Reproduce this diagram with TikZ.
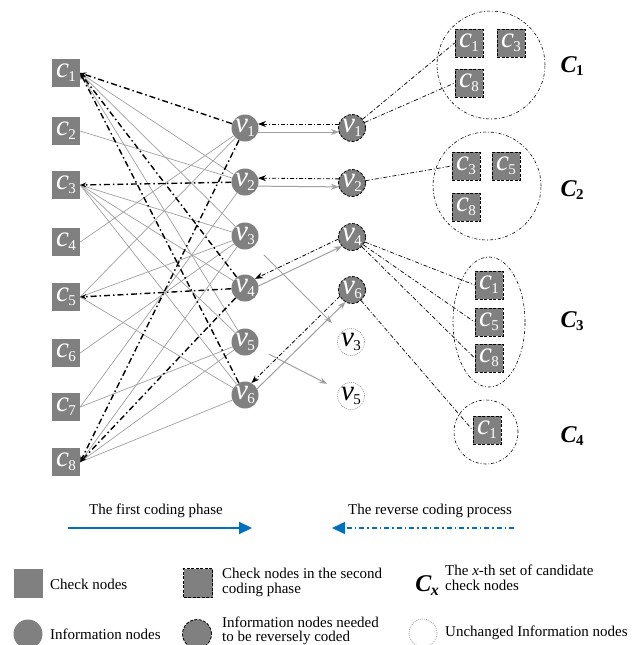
\documentclass[tikz,border=0pt]{standalone}
\usepackage{fontspec}
\setmainfont{Liberation Serif}
\usetikzlibrary{arrows.meta,calc,shapes.geometric}
\definecolor{ng}{RGB}{128,128,128}
\definecolor{lg}{RGB}{160,160,160}
\definecolor{bluec}{RGB}{0,112,192}
\newcommand{\nlab}[2]{{\fontsize{29}{29}\selectfont\itshape #1}\kern-0.5pt\raisebox{-4pt}{\fontsize{15}{15}\selectfont #2}}
\newcommand{\setlab}[1]{{\fontsize{24}{24}\selectfont\bfseries\itshape C}\kern-0.5pt\raisebox{-3.5pt}{\fontsize{15}{15}\selectfont\bfseries #1}}
\tikzset{
  chk/.style={rectangle, fill=ng, minimum size=28pt, inner sep=0pt, text=white},
  chkd/.style={chk, draw=black, dash pattern=on 3pt off 1.5pt, line width=0.8pt},
  inf/.style={circle, fill=ng, minimum size=27pt, inner sep=0pt, text=white},
  infd/.style={inf, draw=black, dash pattern=on 3pt off 1.5pt, line width=0.8pt},
  unch/.style={circle, draw=lg, dash pattern=on 1pt off 1pt, line width=0.7pt, minimum size=27pt, inner sep=0pt, text=black},
  ge/.style={draw=lg, line width=0.7pt},
  te/.style={draw=black, line width=1.4pt, dash pattern=on 6pt off 3pt on 1.5pt off 3pt, -{Stealth[length=6pt,width=5pt]}},
  re/.style={draw=black, line width=0.7pt, dash pattern=on 4pt off 2pt on 1pt off 2pt},
  ga/.style={draw=lg, line width=1pt, shorten <=13pt, shorten >=13pt, -{Stealth[length=8pt,width=6pt]}},
  ba/.style={draw=black, line width=0.8pt, shorten <=13pt, shorten >=13pt, dash pattern=on 4pt off 2pt on 1pt off 2pt, -{Stealth[length=8pt,width=6pt]}},
  setc/.style={draw=black, line width=0.6pt, dash pattern=on 3pt off 2pt on 0.8pt off 2pt},
  legt/.style={anchor=west, font=\fontsize{15}{15}\selectfont, inner sep=0pt, align=left},
}
\begin{document}
\begin{tikzpicture}[x=1pt,y=-1pt]
\useasboundingbox (0,0) rectangle (639,645);
% check nodes
\node[chk] (c1) at (66,73) {\nlab{c}{1}};
\node[chk] (c2) at (66,131) {\nlab{c}{2}};
\node[chk] (c3) at (66,185) {\nlab{c}{3}};
\node[chk] (c4) at (66,242) {\nlab{c}{4}};
\node[chk] (c5) at (66,297) {\nlab{c}{5}};
\node[chk] (c6) at (66,353) {\nlab{c}{6}};
\node[chk] (c7) at (66,407) {\nlab{c}{7}};
\node[chk] (c8) at (66,462) {\nlab{c}{8}};
% info nodes
\node[inf] (v1) at (245,128) {\nlab{v}{1}};
\node[inf] (v2) at (245,182) {\nlab{v}{2}};
\node[inf] (v3) at (245,236) {\nlab{v}{3}};
\node[inf] (v4) at (245,288) {\nlab{v}{4}};
\node[inf] (v5) at (245,342) {\nlab{v}{5}};
\node[inf] (v6) at (245,395) {\nlab{v}{6}};
% right info nodes
\node[infd] (r1) at (352,128) {\nlab{v}{1}};
\node[infd] (r2) at (352,183) {\nlab{v}{2}};
\node[infd] (r4) at (352,237) {\nlab{v}{4}};
\node[infd] (r6) at (352,290) {\nlab{v}{6}};
\node[unch] (u3) at (351,342) {\nlab{v}{3}};
\node[unch] (u5) at (351,396) {\nlab{v}{5}};
% gray edges
\foreach \a/\b in {c1/v2,c1/v3,c1/v5,c2/v2,c3/v3,c3/v4,c3/v5,c3/v6,c4/v1,c5/v1,c5/v3,c5/v6,c6/v3,c7/v2,c7/v5,c8/v3,c8/v5,c8/v6}
  \draw[ge] (\a.east) -- (\b);
% thick dash-dot edges
\foreach \a/\b in {v1/c1,v4/c1,v6/c1,v2/c3,v4/c5,v1/c8,v4/c8}
  \draw[te] (\a) -- (\b.east);
% coding arrows
\foreach \a/\b in {v1/r1,v2/r2,v4/r4,v6/r6}{
  \draw[ga] ($(\a)!4pt!-90:(\b)$) -- ($(\b)!4pt!90:(\a)$);
  \draw[ba] ($(\b)!4pt!-90:(\a)$) -- ($(\a)!4pt!90:(\b)$);
}
\draw[ga] (v3) -- (u3);
\draw[ga] (v5) -- (u5);
% candidate sets
\node[circle, setc, minimum size=108pt] (s1) at (491,65) {};
\node[chkd] (k11) at (469,43) {\nlab{c}{1}};
\node[chkd] (k13) at (511,43) {\nlab{c}{3}};
\node[chkd] (k18) at (469,83) {\nlab{c}{8}};
\node[circle, setc, minimum size=108pt] (s2) at (487,186) {};
\node[chkd] (k23) at (466,166) {\nlab{c}{3}};
\node[chkd] (k25) at (506,166) {\nlab{c}{5}};
\node[chkd] (k28) at (466,207) {\nlab{c}{8}};
\node[ellipse, setc, minimum width=72pt, minimum height=130pt] (s3) at (489,322) {};
\node[chkd] (k31) at (489,285) {\nlab{c}{1}};
\node[chkd] (k35) at (489,322) {\nlab{c}{5}};
\node[chkd] (k38) at (489,358) {\nlab{c}{8}};
\node[circle, setc, minimum size=64pt] (s4) at (486,432) {};
\node[chkd] (k41) at (487,430) {\nlab{c}{1}};
\draw[re] (r1) -- (k11.west);
\draw[re] (r1) -- (k18.west);
\draw[re] (r2) -- (k23.west);
\draw[re] (r4) -- (k31.west);
\draw[re] (r4) -- (k35.west);
\draw[re] (r4) -- (k38.west);
\draw[re] (r6) -- (k41.west);
\node (l1) at (572,66) {\setlab{1}};
\node (l2) at (572,190) {\setlab{2}};
\node (l3) at (572,321) {\setlab{3}};
\node (l4) at (572,436) {\setlab{4}};
% phase arrows
\node[font=\fontsize{15}{16}\selectfont] (p1) at (156,511) {The first coding phase};
\node[font=\fontsize{15}{16}\selectfont] (p2) at (430,511) {The reverse coding process};
\coordinate (a1s) at (68,528);
\coordinate (a1e) at (252,528);
\coordinate (a2s) at (514,528);
\coordinate (a2e) at (332,528);
\draw[bluec, line width=2pt, -{Triangle[length=13pt,width=12pt]}] (a1s) -- (a1e);
\draw[bluec, line width=1.6pt, dash pattern=on 5pt off 3pt on 1.5pt off 3pt, -{Triangle[length=13pt,width=12pt]}] (a2s) -- (a2e);
% legend
\node[chk, minimum size=29pt] (g1) at (28,583) {};
\node[legt] (g1t) at (50,584) {Check nodes};
\node[chkd, minimum size=29pt] (g2) at (198,583) {};
\node[legt] (g2t) at (222,582) {Check nodes in the second\\coding phase};
\node (g3) at (427,586) {{\fontsize{24}{24}\selectfont\bfseries\itshape C}\kern-0.5pt\raisebox{-4pt}{\fontsize{16}{16}\selectfont\bfseries\itshape x}};
\node[legt] (g3t) at (445,578) {The \textit{x}-th set of candidate\\check nodes};
\node[inf, minimum size=29pt] (g4) at (28,634) {};
\node[legt] (g4t) at (50,634) {Information nodes};
\node[infd, minimum size=29pt] (g5) at (197,634) {};
\node[legt, font=\fontsize{15}{14}\selectfont] (g5t) at (222,631) {Information nodes needed\\to be reversely coded};
\node[unch, minimum size=28pt] (g6) at (423,633) {};
\node[legt] (g6t) at (445,633) {Unchanged Information nodes};
\end{tikzpicture}
\end{document}
